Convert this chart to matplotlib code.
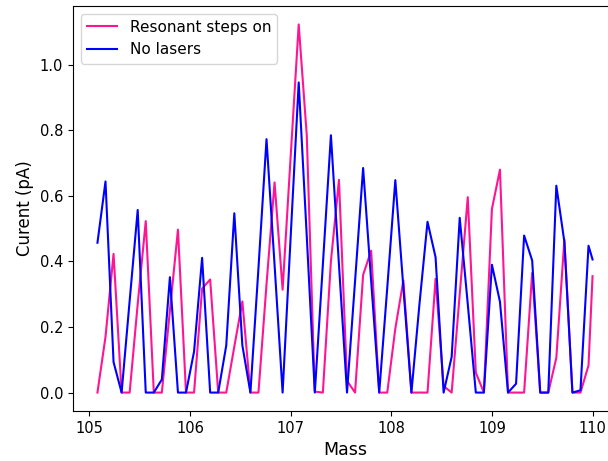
import matplotlib
matplotlib.use("Agg")
import matplotlib.pyplot as plt

mass = [105.08, 105.16, 105.24, 105.32, 105.40, 105.48, 105.56, 105.64, 105.72, 105.80,
        105.88, 105.96, 106.04, 106.12, 106.20, 106.28, 106.36, 106.44, 106.52, 106.60,
        106.68, 106.76, 106.84, 106.92, 107.00, 107.08, 107.16, 107.24, 107.32, 107.40,
        107.48, 107.56, 107.64, 107.72, 107.80, 107.88, 107.96, 108.04, 108.12, 108.20,
        108.28, 108.36, 108.44, 108.52, 108.60, 108.68, 108.76, 108.84, 108.92, 109.00,
        109.08, 109.16, 109.24, 109.32, 109.40, 109.48, 109.56, 109.64, 109.72, 109.80,
        109.88, 109.96, 110.00]

resonant = [0.0, 0.170, 0.423, 0.0, 0.0, 0.27, 0.523, 0.0, 0.0, 0.25,
            0.497, 0.0, 0.0, 0.317, 0.345, 0.0, 0.0, 0.14, 0.278, 0.0,
            0.0, 0.33, 0.641, 0.314, 0.72, 1.123, 0.785, 0.003, 0.0, 0.40,
            0.649, 0.036, 0.0, 0.359, 0.433, 0.0, 0.0, 0.195, 0.342, 0.0,
            0.0, 0.0, 0.347, 0.02, 0.0, 0.30, 0.596, 0.061, 0.0, 0.56,
            0.68, 0.0, 0.0, 0.0, 0.365, 0.0, 0.0, 0.106, 0.466, 0.0,
            0.0, 0.083, 0.355]

no_lasers = [0.457, 0.644, 0.093, 0.0, 0.28, 0.557, 0.0, 0.0, 0.04, 0.352,
             0.0, 0.0, 0.125, 0.411, 0.0, 0.0, 0.144, 0.547, 0.144, 0.0,
             0.38, 0.773, 0.39, 0.0, 0.475, 0.946, 0.477, 0.0, 0.39, 0.785,
             0.39, 0.0, 0.34, 0.685, 0.34, 0.0, 0.32, 0.648, 0.32, 0.0,
             0.27, 0.521, 0.413, 0.0, 0.109, 0.533, 0.27, 0.0, 0.0, 0.39,
             0.277, 0.0, 0.027, 0.479, 0.403, 0.0, 0.0, 0.631, 0.46, 0.0,
             0.007, 0.448, 0.406]

fig = plt.figure(figsize=(6.08, 4.61), dpi=100)
ax = fig.add_axes([73 / 608, 50 / 461, 544 / 608, 405 / 461])
ax.plot(mass, resonant, color="#ff1493", lw=1.5, label="Resonant steps on")
ax.plot(mass, no_lasers, color="#0000ff", lw=1.5, label="No lasers")
ax.set_xlim(104.837, 110.243)
ax.set_ylim(-0.0562, 1.1792)
ax.set_xticks([105, 106, 107, 108, 109, 110])
ax.set_yticks([0.0, 0.2, 0.4, 0.6, 0.8, 1.0])
ax.tick_params(labelsize=10.5)
ax.set_xlabel("Mass", fontsize=12.5)
ax.set_ylabel("Curent (pA)", fontsize=12)
ax.legend(loc="upper left", fontsize=11)
fig.savefig("out.png", dpi=100)
